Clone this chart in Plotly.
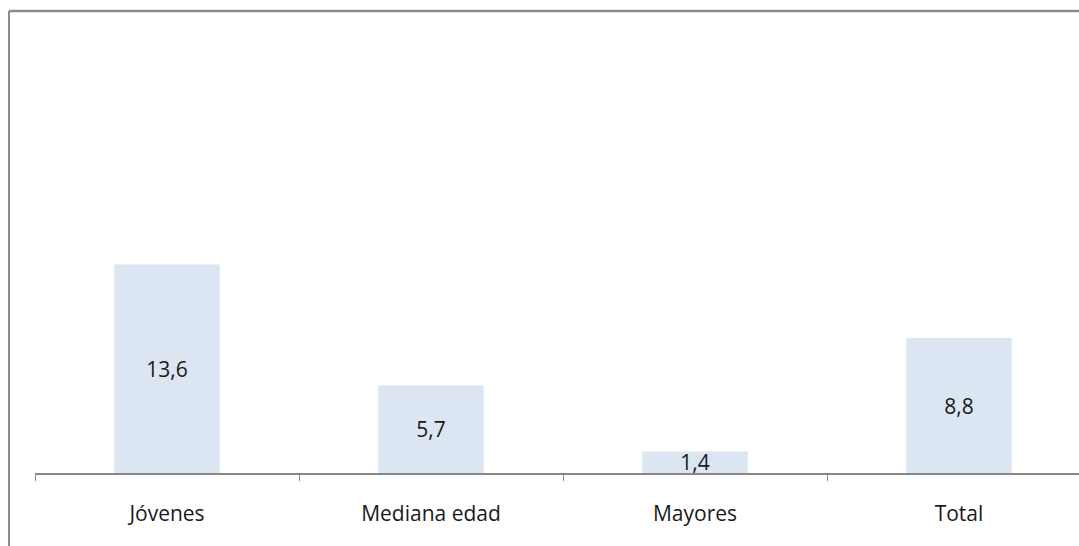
import plotly.graph_objects as go

categories = ["Jóvenes", "Mediana edad", "Mayores", "Total"]
values = [13.6, 5.7, 1.4, 8.8]
value_labels = ["13,6", "5,7", "1,4", "8,8"]

W, H = 1079, 546
ml, mr, mt, mb = 35, 0, 20, 73
pw, ph = W - ml - mr, H - mt - mb

FONT = "Open Sans"

fig = go.Figure(go.Bar(
    x=categories, y=values, text=value_labels,
    textposition="inside", insidetextanchor="middle", constraintext="none",
    textangle=0,
    textfont=dict(family=FONT, size=21, color="#1a1a1a"),
    marker=dict(color="#DCE6F2", line=dict(width=0)),
    width=0.4, cliponaxis=False, hoverinfo="skip",
))

fig.update_layout(
    width=W, height=H,
    margin=dict(l=ml, r=mr, t=mt, b=mb, pad=0),
    paper_bgcolor="white", plot_bgcolor="white",
    showlegend=False,
    xaxis=dict(
        type="category", range=[-0.5, 3.5 - 12 / 264],
        showline=True, linecolor="#888888", linewidth=1.5,
        tickson="boundaries", ticks="outside", ticklen=6, tickcolor="#888888",
        tickwidth=1,
        tickfont=dict(family=FONT, size=21, color="#1a1a1a"),
        ticklabelstandoff=21, showgrid=False, zeroline=False,
    ),
    yaxis=dict(range=[0, 29.55], visible=False, showgrid=False, zeroline=False),
    shapes=[
        dict(type="line", xref="paper", yref="paper",
             x0=(9 - ml) / pw, x1=1.02, y0=1 + (mt - 11) / ph, y1=1 + (mt - 11) / ph,
             line=dict(color="#8c8c8c", width=2.5)),
        dict(type="line", xref="paper", yref="paper",
             x0=(9 - ml) / pw, x1=(9 - ml) / pw, y0=1 + (mt - 11) / ph, y1=-0.2,
             line=dict(color="#8c8c8c", width=2)),
    ],
)

fig.write_html("out.html", config={"displayModeBar": False},
               post_script="document.body.style.margin='0';document.body.style.overflow='hidden';")
